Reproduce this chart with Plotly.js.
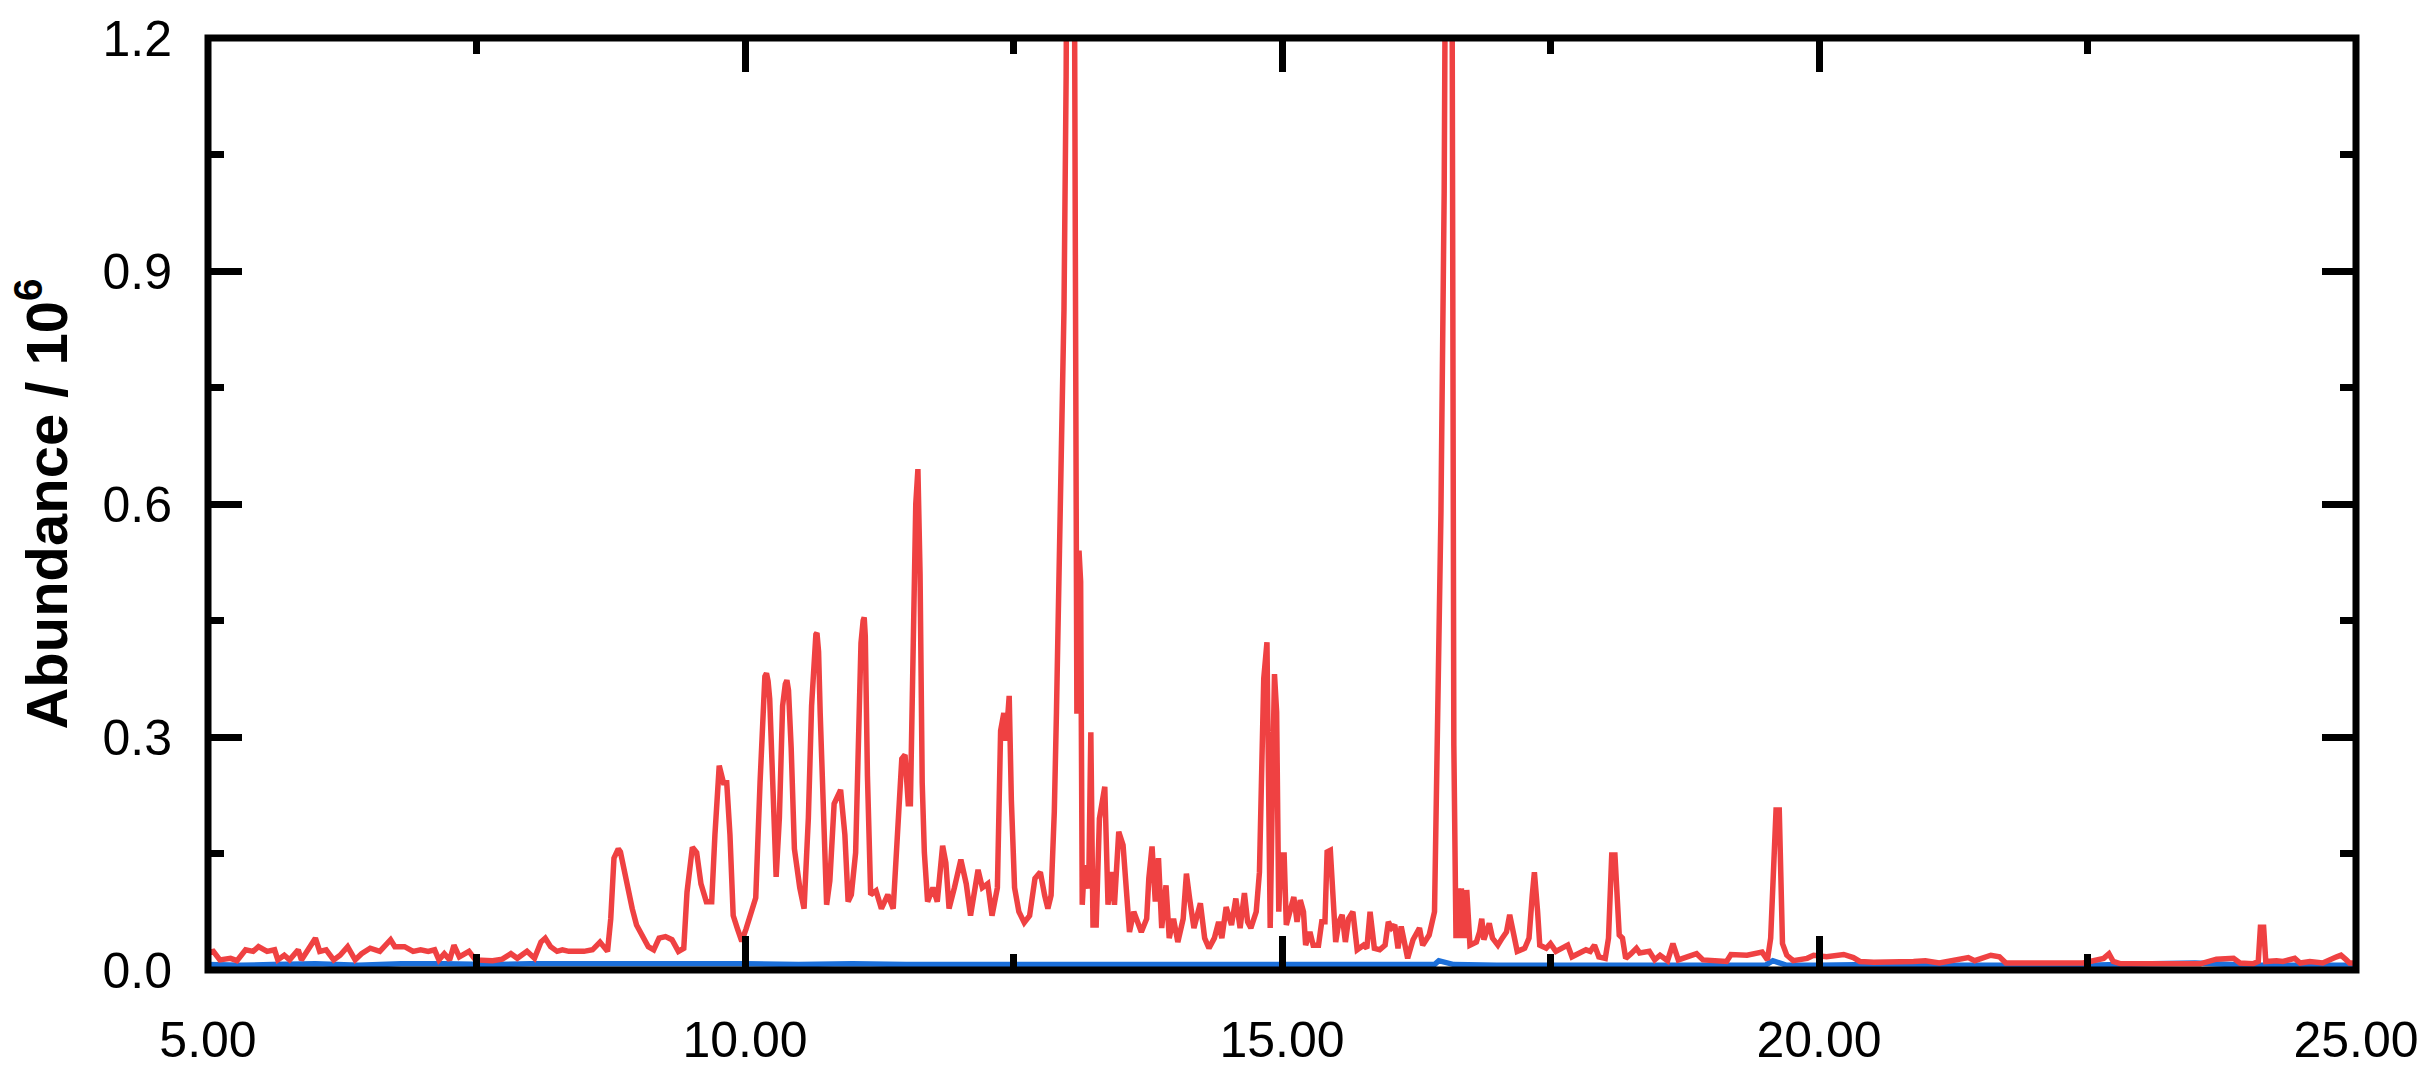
<!DOCTYPE html>
<html>
<head>
<meta charset="utf-8">
<script src="https://cdn.plot.ly/plotly-3.0.1.min.js"></script>
<style>
  html, body { margin: 0; padding: 0; background: #ffffff; }
  #chart { width: 2429px; height: 1067px; }
</style>
</head>
<body>
<div id="chart"></div>
<script>
// Retention time (min) and abundance (x10^6)
const redTime = [
  5.00, 5.05, 5.11, 5.21, 5.27, 5.35, 5.42, 5.47, 5.55, 5.62, 5.65, 5.71, 5.76, 5.84, 5.87, 5.97, 6.00, 6.04, 6.10, 6.17,
  6.23, 6.30, 6.37, 6.43, 6.51, 6.60, 6.70, 6.74, 6.83, 6.91, 6.98, 7.05, 7.11, 7.15, 7.20, 7.25, 7.29, 7.34, 7.43, 7.49,
  7.56, 7.65, 7.74, 7.82, 7.88, 7.97, 8.04, 8.10, 8.14, 8.19, 8.25, 8.30, 8.36, 8.42, 8.50, 8.58, 8.65, 8.72, 8.75, 8.78,
  8.80, 8.82, 8.84, 8.86, 8.90, 8.95, 8.99, 9.04, 9.10, 9.15, 9.20, 9.26, 9.32, 9.38, 9.43, 9.46, 9.51, 9.55, 9.59, 9.64,
  9.69, 9.72, 9.76, 9.80, 9.83, 9.86, 9.89, 9.93, 9.97, 10.01, 10.06, 10.10, 10.14, 10.17, 10.185, 10.20, 10.215, 10.23, 10.26, 10.29,
  10.32, 10.35, 10.375, 10.39, 10.405, 10.43, 10.46, 10.51, 10.55, 10.59, 10.62, 10.65, 10.66, 10.67, 10.685, 10.70, 10.73, 10.76, 10.79, 10.83,
  10.89, 10.93, 10.96, 10.99, 11.03, 11.08, 11.10, 11.11, 11.12, 11.14, 11.17, 11.22, 11.27, 11.33, 11.38, 11.42, 11.46, 11.49, 11.52, 11.54,
  11.56, 11.59, 11.61, 11.63, 11.65, 11.67, 11.70, 11.75, 11.79, 11.84, 11.87, 11.90, 11.95, 12.01, 12.06, 12.10, 12.17, 12.21, 12.26, 12.30,
  12.35, 12.38, 12.41, 12.43, 12.46, 12.48, 12.51, 12.55, 12.60, 12.65, 12.70, 12.75, 12.79, 12.82, 12.85, 12.88, 12.90, 12.92, 12.94, 12.97,
  12.99, 13.01, 13.04, 13.06, 13.075, 13.09, 13.11, 13.125, 13.14, 13.16, 13.20, 13.22, 13.24, 13.27, 13.30, 13.35, 13.38, 13.41, 13.44, 13.48,
  13.52, 13.55, 13.58, 13.62, 13.66, 13.69, 13.74, 13.76, 13.79, 13.82, 13.85, 13.88, 13.92, 13.95, 13.99, 14.03, 14.08, 14.11, 14.14, 14.18,
  14.24, 14.28, 14.32, 14.37, 14.41, 14.44, 14.48, 14.53, 14.57, 14.61, 14.65, 14.68, 14.71, 14.76, 14.79, 14.81, 14.83, 14.86, 14.88, 14.89,
  14.91, 14.93, 14.95, 14.97, 14.99, 15.02, 15.04, 15.07, 15.11, 15.14, 15.17, 15.20, 15.22, 15.26, 15.29, 15.34, 15.37, 15.40, 15.42, 15.45,
  15.48, 15.50, 15.53, 15.56, 15.59, 15.62, 15.66, 15.70, 15.76, 15.79, 15.82, 15.86, 15.91, 15.96, 15.99, 16.02, 16.05, 16.08, 16.11, 16.14,
  16.17, 16.22, 16.28, 16.31, 16.37, 16.42, 16.44, 16.46, 16.48, 16.51, 16.53, 16.56, 16.58, 16.59, 16.60, 16.62, 16.64, 16.66, 16.67, 16.70,
  16.72, 16.75, 16.81, 16.84, 16.86, 16.88, 16.93, 16.96, 17.01, 17.05, 17.09, 17.12, 17.15, 17.19, 17.26, 17.30, 17.33, 17.35, 17.38, 17.40,
  17.46, 17.50, 17.55, 17.61, 17.66, 17.70, 17.77, 17.83, 17.87, 17.91, 17.95, 18.01, 18.04, 18.07, 18.10, 18.12, 18.14, 18.17, 18.20, 18.25,
  18.30, 18.33, 18.42, 18.47, 18.52, 18.59, 18.64, 18.69, 18.77, 18.86, 18.92, 19.04, 19.14, 19.18, 19.33, 19.47, 19.52, 19.55, 19.58, 19.60,
  19.63, 19.64, 19.66, 19.70, 19.76, 19.89, 19.95, 20.07, 20.14, 20.23, 20.32, 20.38, 20.51, 20.69, 20.88, 20.99, 21.12, 21.39, 21.45, 21.60,
  21.68, 21.74, 21.87, 21.93, 21.99, 22.30, 22.37, 22.46, 22.65, 22.70, 22.74, 22.81, 23.24, 23.55, 23.70, 23.86, 23.92, 24.04, 24.09, 24.11,
  24.14, 24.16, 24.26, 24.32, 24.43, 24.48, 24.57, 24.69, 24.82, 24.86, 24.91, 24.94, 25.00
];
const redAbundance = [
  0.022, 0.024, 0.013, 0.015, 0.012, 0.026, 0.024, 0.030, 0.024, 0.026, 0.013, 0.019, 0.013, 0.026, 0.013, 0.036, 0.041, 0.024, 0.026, 0.013,
  0.019, 0.030, 0.013, 0.021, 0.028, 0.024, 0.039, 0.030, 0.030, 0.024, 0.026, 0.024, 0.026, 0.013, 0.021, 0.013, 0.032, 0.017, 0.024, 0.013,
  0.013, 0.012, 0.014, 0.021, 0.015, 0.024, 0.015, 0.036, 0.041, 0.030, 0.024, 0.026, 0.024, 0.024, 0.024, 0.026, 0.036, 0.024, 0.066, 0.144,
  0.153, 0.156, 0.152, 0.139, 0.105, 0.079, 0.058, 0.045, 0.030, 0.026, 0.041, 0.043, 0.039, 0.024, 0.028, 0.100, 0.158, 0.151, 0.111, 0.088,
  0.088, 0.174, 0.263, 0.241, 0.241, 0.174, 0.070, 0.053, 0.037, 0.053, 0.075, 0.093, 0.241, 0.367, 0.378, 0.382, 0.372, 0.349, 0.219, 0.120,
  0.196, 0.340, 0.368, 0.373, 0.360, 0.286, 0.156, 0.106, 0.079, 0.196, 0.340, 0.421, 0.432, 0.434, 0.410, 0.331, 0.174, 0.084, 0.115, 0.214,
  0.232, 0.174, 0.088, 0.097, 0.151, 0.421, 0.450, 0.454, 0.430, 0.250, 0.097, 0.102, 0.079, 0.097, 0.079, 0.174, 0.272, 0.277, 0.214, 0.214,
  0.376, 0.600, 0.645, 0.510, 0.241, 0.151, 0.088, 0.106, 0.088, 0.160, 0.138, 0.079, 0.106, 0.142, 0.111, 0.070, 0.129, 0.106, 0.111, 0.070,
  0.106, 0.308, 0.331, 0.295, 0.353, 0.219, 0.106, 0.075, 0.061, 0.070, 0.118, 0.126, 0.096, 0.079, 0.096, 0.204, 0.332, 0.482, 0.589, 0.850,
  1.150, 1.600, 2.600, 1.600, 1.000, 0.330, 0.540, 0.500, 0.084, 0.135, 0.105, 0.306, 0.058, 0.058, 0.195, 0.236, 0.084, 0.126, 0.084, 0.178,
  0.161, 0.096, 0.049, 0.075, 0.058, 0.049, 0.066, 0.118, 0.159, 0.088, 0.144, 0.054, 0.109, 0.041, 0.066, 0.036, 0.066, 0.124, 0.092, 0.054,
  0.086, 0.041, 0.028, 0.041, 0.062, 0.041, 0.081, 0.058, 0.092, 0.054, 0.099, 0.062, 0.054, 0.075, 0.126, 0.246, 0.375, 0.422, 0.204, 0.054,
  0.225, 0.381, 0.332, 0.075, 0.148, 0.148, 0.058, 0.075, 0.094, 0.062, 0.090, 0.075, 0.032, 0.049, 0.032, 0.032, 0.062, 0.062, 0.152, 0.154,
  0.075, 0.036, 0.062, 0.071, 0.036, 0.066, 0.075, 0.026, 0.032, 0.028, 0.075, 0.028, 0.026, 0.032, 0.062, 0.054, 0.058, 0.028, 0.056, 0.036,
  0.015, 0.039, 0.054, 0.032, 0.045, 0.075, 0.246, 0.418, 0.589, 1.000, 1.600, 2.400, 1.500, 1.000, 0.289, 0.041, 0.105, 0.041, 0.105, 0.041,
  0.103, 0.032, 0.036, 0.049, 0.066, 0.039, 0.060, 0.041, 0.032, 0.041, 0.049, 0.071, 0.049, 0.024, 0.028, 0.041, 0.096, 0.126, 0.075, 0.032,
  0.028, 0.034, 0.024, 0.028, 0.032, 0.017, 0.021, 0.026, 0.024, 0.032, 0.017, 0.015, 0.041, 0.148, 0.148, 0.075, 0.045, 0.041, 0.015, 0.021,
  0.028, 0.022, 0.024, 0.013, 0.019, 0.012, 0.034, 0.013, 0.017, 0.021, 0.013, 0.012, 0.011, 0.020, 0.019, 0.023, 0.013, 0.041, 0.148, 0.206,
  0.206, 0.126, 0.034, 0.019, 0.012, 0.015, 0.019, 0.017, 0.019, 0.020, 0.016, 0.011, 0.010, 0.010, 0.011, 0.012, 0.009, 0.016, 0.012, 0.019,
  0.017, 0.009, 0.009, 0.009, 0.009, 0.009, 0.009, 0.009, 0.015, 0.021, 0.011, 0.008, 0.008, 0.008, 0.014, 0.015, 0.009, 0.008, 0.011, 0.055,
  0.055, 0.011, 0.012, 0.011, 0.015, 0.009, 0.011, 0.009, 0.017, 0.019, 0.013, 0.009, 0.009
];
const blueTime = [
  5.0, 5.3, 5.6, 6.0, 6.4, 6.8, 7.2, 7.6, 8.0, 8.4, 8.8, 9.2, 9.6, 10.0, 10.5, 11.0, 11.5, 12.0, 12.5, 13.0,
  13.5, 14.0, 14.5, 15.0, 15.5, 16.0, 16.42, 16.46, 16.52, 16.6, 17.0, 17.5, 18.0, 18.5, 19.0, 19.5, 19.57, 19.62, 19.7, 20.0,
  20.5, 21.0, 21.5, 22.0, 22.5, 23.1, 23.5, 24.0, 24.5, 25.0
];
const blueAbundance = [
  0.007, 0.006, 0.007, 0.008, 0.006, 0.008, 0.008, 0.007, 0.008, 0.008, 0.008, 0.009, 0.008, 0.008, 0.007, 0.008, 0.007, 0.007, 0.006, 0.007,
  0.006, 0.007, 0.006, 0.007, 0.007, 0.006, 0.007, 0.012, 0.010, 0.007, 0.006, 0.006, 0.006, 0.006, 0.006, 0.006, 0.012, 0.009, 0.006, 0.006,
  0.007, 0.006, 0.006, 0.006, 0.006, 0.008, 0.009, 0.006, 0.006, 0.006
];
const xTickVals = [5, 10, 15, 20, 25];
const xTickText = ["5.00", "10.00", "15.00", "20.00", "25.00"];
const yTickVals = [0, 0.3, 0.6, 0.9, 1.2];
const yTickText = ["0.0", "0.3", "0.6", "0.9", "1.2"];
const yTitle = "Abundance / 10<sup>6</sup>";

const FONT = "'Liberation Sans', Arial, Helvetica, sans-serif";

const traces = [
  {
    x: blueTime, y: blueAbundance, type: "scatter", mode: "lines",
    line: { color: "#1b6fda", width: 5.5 }, hoverinfo: "skip", showlegend: false
  },
  {
    x: redTime, y: redAbundance, type: "scatter", mode: "lines",
    line: { color: "#ef4142", width: 5.5, shape: "linear" }, hoverinfo: "skip", showlegend: false
  }
];

const axisCommon = {
  showline: false, showgrid: false, zeroline: false,
  ticks: "inside", tickwidth: 7, ticklen: 34, tickcolor: "#000000",
  mirror: "ticks",
  tickfont: { family: FONT, size: 50, color: "#000000" }
};

const layout = {
  width: 2429, height: 1067,
  paper_bgcolor: "#ffffff", plot_bgcolor: "#ffffff",
  margin: { l: 208, r: 72.5, t: 38.3, b: 96.5, pad: 0 },
  showlegend: false,
  xaxis: Object.assign({}, axisCommon, {
    range: [5, 25], autorange: false,
    tickmode: "array", tickvals: xTickVals, ticktext: xTickText,
    ticklabelstandoff: 36,
    minor: { dtick: 2.5, tick0: 5, ticks: "inside", ticklen: 16, tickwidth: 7, tickcolor: "#000000", showgrid: false }
  }),
  yaxis: Object.assign({}, axisCommon, {
    range: [0, 1.2], autorange: false,
    tickmode: "array", tickvals: yTickVals, ticktext: yTickText,
    ticklabelstandoff: 35,
    minor: { dtick: 0.15, tick0: 0, ticks: "inside", ticklen: 16, tickwidth: 7, tickcolor: "#000000", showgrid: false },
    title: { text: yTitle, font: { family: FONT, size: 58, color: "#000000", weight: "bold" }, standoff: 16 }
  }),
  shapes: [{
    type: "rect", xref: "paper", yref: "paper", x0: 0, x1: 1, y0: 0, y1: 1,
    line: { color: "#000000", width: 7 }, fillcolor: "rgba(0,0,0,0)", layer: "above"
  }]
};

Plotly.newPlot("chart", traces, layout, { staticPlot: true, displayModeBar: false });
</script>
</body>
</html>
